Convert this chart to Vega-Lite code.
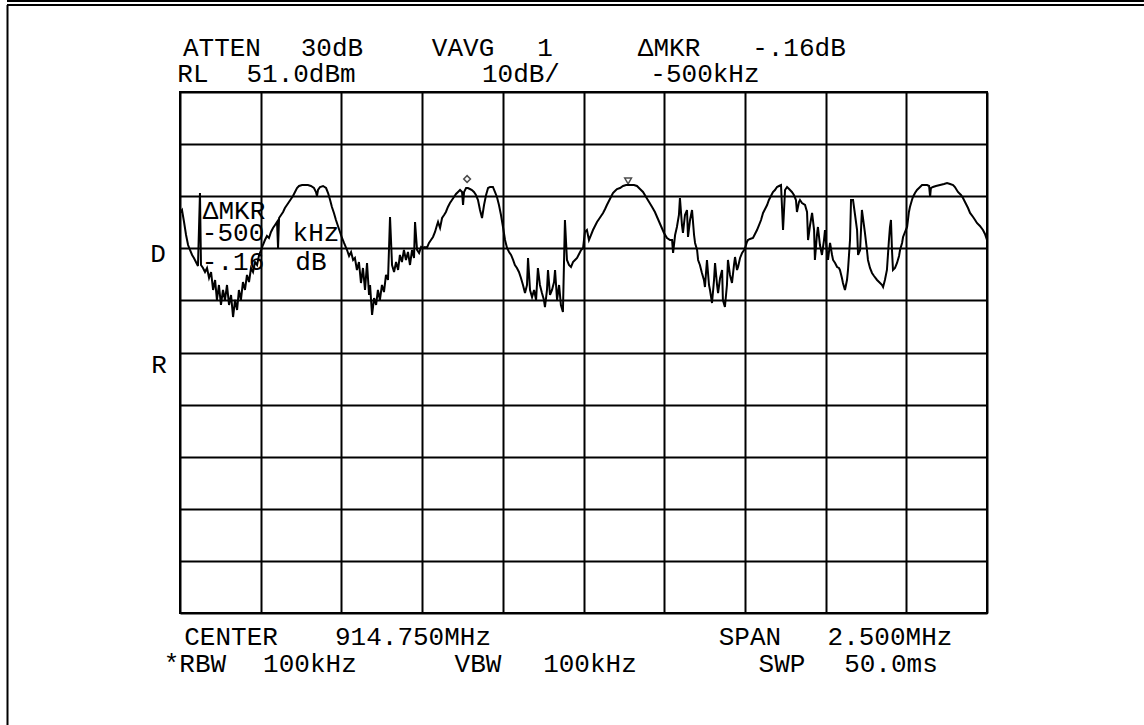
{
  "$schema": "https://vega.github.io/schema/vega-lite/v6.json",
  "width": 807,
  "height": 521,
  "autosize": {"type": "none"},
  "padding": {"left": 180, "top": 92, "right": 157, "bottom": 112},
  "background": "white",
  "config": {
    "view": {"stroke": "black", "strokeWidth": 2},
    "axis": {"grid": true, "labels": false, "ticks": false, "domain": false, "title": null, "gridColor": "black", "gridWidth": 2, "gridOpacity": 1}
  },
  "datasets": {
    "trace": [
      {"pt":0,"dBm":27.78},{"pt":1.0,"dBm":28.35},{"pt":2.0,"dBm":26.05},{"pt":3.0,"dBm":23.55},{"pt":4.0,"dBm":21.63},{"pt":5.0,"dBm":20.67},{"pt":6.0,"dBm":19.72},{"pt":6.9,"dBm":19.14},{"pt":7.9,"dBm":18.37},{"pt":8.9,"dBm":17.6},{"pt":9.9,"dBm":31.61},{"pt":10.4,"dBm":17.8},{"pt":11.4,"dBm":17.22},{"pt":12.4,"dBm":16.45},{"pt":13.4,"dBm":17.22},{"pt":14.4,"dBm":15.3},{"pt":15.4,"dBm":16.45},{"pt":16.4,"dBm":13.0},{"pt":17.4,"dBm":14.92},{"pt":18.3,"dBm":11.08},{"pt":19.3,"dBm":13.96},{"pt":20.3,"dBm":10.12},{"pt":21.3,"dBm":13.0},{"pt":22.3,"dBm":11.08},{"pt":23.3,"dBm":13.96},{"pt":24.3,"dBm":10.12},{"pt":25.3,"dBm":12.04},{"pt":26.3,"dBm":7.81},{"pt":27.3,"dBm":11.08},{"pt":28.3,"dBm":9.16},{"pt":29.2,"dBm":13.0},{"pt":30.2,"dBm":11.08},{"pt":31.2,"dBm":14.53},{"pt":32.2,"dBm":13.0},{"pt":33.2,"dBm":15.88},{"pt":34.2,"dBm":14.53},{"pt":35.2,"dBm":17.22},{"pt":36.2,"dBm":16.45},{"pt":37.2,"dBm":18.37},{"pt":38.2,"dBm":17.8},{"pt":39.2,"dBm":19.72},{"pt":40.2,"dBm":20.67},{"pt":41.1,"dBm":21.63},
      {"pt":42.1,"dBm":22.59},{"pt":43.1,"dBm":23.36},{"pt":44.1,"dBm":22.98},{"pt":45.1,"dBm":24.13},{"pt":46.1,"dBm":24.9},{"pt":47.1,"dBm":25.47},{"pt":48.1,"dBm":26.05},{"pt":48.6,"dBm":21.06},{"pt":49.1,"dBm":26.82},{"pt":50.1,"dBm":27.39},{"pt":51.1,"dBm":27.97},{"pt":52.0,"dBm":28.73},{"pt":53.0,"dBm":29.31},{"pt":54.0,"dBm":29.89},{"pt":55.0,"dBm":30.46},{"pt":56.0,"dBm":31.04},{"pt":57.0,"dBm":31.81},{"pt":58.0,"dBm":32.57},{"pt":59.0,"dBm":32.96},{"pt":60.5,"dBm":33.15},{"pt":62.0,"dBm":33.15},{"pt":63.4,"dBm":33.15},{"pt":64.9,"dBm":32.96},{"pt":66.4,"dBm":32.57},{"pt":67.4,"dBm":31.81},{"pt":67.9,"dBm":31.04},{"pt":68.4,"dBm":32.19},{"pt":69.4,"dBm":32.77},{"pt":70.9,"dBm":32.96},{"pt":72.4,"dBm":32.57},{"pt":73.4,"dBm":31.61},{"pt":74.4,"dBm":30.27},{"pt":75.3,"dBm":28.93},{"pt":76.3,"dBm":27.78},{"pt":77.3,"dBm":26.43},{"pt":78.3,"dBm":25.28},{"pt":79.3,"dBm":24.13},{"pt":80.3,"dBm":22.98},{"pt":81.3,"dBm":22.02},
      {"pt":82.8,"dBm":20.67},{"pt":83.8,"dBm":19.52},{"pt":84.8,"dBm":20.29},{"pt":85.8,"dBm":18.76},{"pt":86.7,"dBm":19.14},{"pt":87.7,"dBm":16.84},{"pt":88.7,"dBm":18.37},{"pt":89.7,"dBm":14.34},{"pt":90.7,"dBm":17.22},{"pt":91.7,"dBm":13.0},{"pt":92.7,"dBm":18.18},{"pt":93.7,"dBm":12.04},{"pt":94.2,"dBm":13.96},{"pt":95.2,"dBm":8.2},{"pt":96.2,"dBm":11.46},{"pt":97.2,"dBm":10.12},{"pt":98.1,"dBm":13.0},{"pt":99.1,"dBm":11.08},{"pt":100.1,"dBm":13.96},{"pt":101.1,"dBm":12.61},{"pt":102.1,"dBm":15.88},{"pt":103.1,"dBm":14.92},{"pt":104.1,"dBm":27.01},{"pt":105.1,"dBm":17.8},{"pt":106.1,"dBm":16.45},{"pt":107.1,"dBm":18.37},{"pt":108.1,"dBm":16.84},{"pt":109.0,"dBm":19.72},{"pt":110.0,"dBm":18.37},{"pt":111.0,"dBm":20.67},{"pt":112.0,"dBm":18.76},{"pt":113.0,"dBm":20.29},{"pt":114.0,"dBm":17.8},{"pt":115.0,"dBm":20.67},{"pt":116.0,"dBm":19.14},{"pt":116.5,"dBm":26.05},{"pt":117.5,"dBm":20.67},{"pt":118.5,"dBm":20.1},{"pt":119.5,"dBm":21.25},{"pt":120.4,"dBm":21.06},
      {"pt":121.4,"dBm":21.25},{"pt":122.4,"dBm":21.06},{"pt":123.4,"dBm":22.02},{"pt":124.4,"dBm":22.59},{"pt":125.4,"dBm":23.17},{"pt":126.4,"dBm":24.13},{"pt":127.4,"dBm":25.47},{"pt":127.9,"dBm":26.05},{"pt":128.9,"dBm":24.9},{"pt":129.9,"dBm":26.82},{"pt":130.9,"dBm":27.39},{"pt":131.8,"dBm":27.97},{"pt":132.8,"dBm":28.93},{"pt":133.8,"dBm":29.69},{"pt":134.8,"dBm":30.27},{"pt":135.8,"dBm":30.85},{"pt":136.8,"dBm":31.42},{"pt":137.8,"dBm":31.81},{"pt":138.8,"dBm":32.19},{"pt":139.8,"dBm":31.81},{"pt":140.3,"dBm":29.31},{"pt":140.8,"dBm":31.81},{"pt":141.8,"dBm":32.57},{"pt":142.7,"dBm":32.57},{"pt":143.7,"dBm":32.38},{"pt":144.7,"dBm":32.19},{"pt":145.7,"dBm":31.81},{"pt":146.7,"dBm":31.23},{"pt":147.7,"dBm":30.27},{"pt":148.7,"dBm":28.35},{"pt":149.7,"dBm":26.82},{"pt":150.7,"dBm":29.31},{"pt":151.7,"dBm":31.23},{"pt":152.7,"dBm":32.57},{"pt":153.7,"dBm":32.77},{"pt":155.1,"dBm":32.77},{"pt":156.1,"dBm":31.81},{"pt":157.1,"dBm":30.85},{"pt":158.1,"dBm":29.31},{"pt":159.1,"dBm":27.39},{"pt":160.1,"dBm":25.09},
      {"pt":161.1,"dBm":22.59},{"pt":162.1,"dBm":21.06},{"pt":163.1,"dBm":20.29},{"pt":164.1,"dBm":19.72},{"pt":165.1,"dBm":18.76},{"pt":166.0,"dBm":17.8},{"pt":167.0,"dBm":17.22},{"pt":168.0,"dBm":16.45},{"pt":169.0,"dBm":15.3},{"pt":170.0,"dBm":13.96},{"pt":171.0,"dBm":12.42},{"pt":172.0,"dBm":13.96},{"pt":172.5,"dBm":19.14},{"pt":173.5,"dBm":13.0},{"pt":174.5,"dBm":11.65},{"pt":175.5,"dBm":13.0},{"pt":176.5,"dBm":11.08},{"pt":177.4,"dBm":17.22},{"pt":178.4,"dBm":13.96},{"pt":179.4,"dBm":12.42},{"pt":180.4,"dBm":11.08},{"pt":180.9,"dBm":9.73},{"pt":181.9,"dBm":13.0},{"pt":182.4,"dBm":16.84},{"pt":183.4,"dBm":12.04},{"pt":184.4,"dBm":13.0},{"pt":185.4,"dBm":14.53},{"pt":185.9,"dBm":16.84},{"pt":186.9,"dBm":11.08},{"pt":187.9,"dBm":13.96},{"pt":188.8,"dBm":10.12},{"pt":189.8,"dBm":8.77},{"pt":190.8,"dBm":26.43},{"pt":191.8,"dBm":18.76},{"pt":192.8,"dBm":17.8},{"pt":193.8,"dBm":17.41},{"pt":194.8,"dBm":18.37},{"pt":195.8,"dBm":18.76},{"pt":196.8,"dBm":19.14},{"pt":197.8,"dBm":19.91},{"pt":198.8,"dBm":20.67},{"pt":199.8,"dBm":21.06},
      {"pt":200.7,"dBm":24.13},{"pt":201.7,"dBm":24.51},{"pt":202.7,"dBm":22.59},{"pt":203.7,"dBm":23.55},{"pt":204.7,"dBm":24.51},{"pt":205.7,"dBm":25.28},{"pt":206.7,"dBm":26.05},{"pt":207.7,"dBm":26.62},{"pt":208.7,"dBm":27.2},{"pt":209.7,"dBm":27.78},{"pt":210.7,"dBm":28.54},{"pt":211.6,"dBm":29.31},{"pt":212.6,"dBm":30.08},{"pt":213.6,"dBm":30.85},{"pt":214.6,"dBm":31.61},{"pt":215.6,"dBm":32.0},{"pt":216.6,"dBm":32.38},{"pt":218.1,"dBm":32.57},{"pt":219.6,"dBm":32.96},{"pt":221.1,"dBm":33.15},{"pt":223.0,"dBm":33.15},{"pt":225.0,"dBm":33.15},{"pt":226.5,"dBm":32.96},{"pt":228.0,"dBm":32.38},{"pt":229.5,"dBm":31.81},{"pt":231.0,"dBm":30.85},{"pt":232.5,"dBm":29.89},{"pt":234.0,"dBm":28.93},{"pt":235.4,"dBm":27.97},{"pt":236.9,"dBm":26.62},{"pt":238.4,"dBm":25.28},{"pt":239.9,"dBm":23.94},{"pt":241.4,"dBm":22.98},{"pt":242.9,"dBm":22.59},{"pt":243.9,"dBm":22.59},{"pt":244.4,"dBm":20.1},{"pt":245.4,"dBm":23.55},{"pt":246.3,"dBm":25.09},{"pt":247.3,"dBm":27.39},{"pt":247.8,"dBm":30.65},{"pt":248.8,"dBm":25.47},{"pt":249.3,"dBm":23.94},
      {"pt":250.3,"dBm":27.39},{"pt":251.3,"dBm":28.35},{"pt":251.8,"dBm":23.17},{"pt":252.8,"dBm":26.43},{"pt":253.8,"dBm":28.35},{"pt":254.8,"dBm":23.55},{"pt":255.3,"dBm":22.02},{"pt":256.3,"dBm":20.67},{"pt":256.8,"dBm":18.76},{"pt":257.7,"dBm":17.8},{"pt":258.7,"dBm":16.26},{"pt":259.7,"dBm":14.92},{"pt":260.2,"dBm":13.57},{"pt":261.2,"dBm":18.76},{"pt":262.2,"dBm":13.96},{"pt":262.7,"dBm":13.0},{"pt":263.7,"dBm":10.5},{"pt":264.7,"dBm":14.92},{"pt":265.2,"dBm":18.18},{"pt":266.2,"dBm":13.96},{"pt":266.7,"dBm":12.42},{"pt":267.7,"dBm":15.3},{"pt":268.7,"dBm":16.84},{"pt":269.1,"dBm":11.08},{"pt":270.1,"dBm":9.73},{"pt":271.1,"dBm":13.96},{"pt":271.6,"dBm":18.76},{"pt":272.6,"dBm":15.88},{"pt":273.6,"dBm":14.34},{"pt":274.6,"dBm":17.8},{"pt":275.1,"dBm":19.33},{"pt":276.1,"dBm":16.84},{"pt":276.6,"dBm":17.41},{"pt":277.6,"dBm":19.14},{"pt":278.6,"dBm":20.1},{"pt":279.6,"dBm":20.67},{"pt":280.1,"dBm":21.06},{"pt":281.0,"dBm":22.21},{"pt":281.5,"dBm":22.59},
      {"pt":282.5,"dBm":22.79},{"pt":284.0,"dBm":22.98},{"pt":285.0,"dBm":23.75},{"pt":286.0,"dBm":24.51},{"pt":287.0,"dBm":25.47},{"pt":288.0,"dBm":26.43},{"pt":289.0,"dBm":27.78},{"pt":290.0,"dBm":28.54},{"pt":291.0,"dBm":29.31},{"pt":291.9,"dBm":30.27},{"pt":292.9,"dBm":31.04},{"pt":293.9,"dBm":31.81},{"pt":294.9,"dBm":32.19},{"pt":295.9,"dBm":32.77},{"pt":296.9,"dBm":32.96},{"pt":297.9,"dBm":33.15},{"pt":298.9,"dBm":24.51},{"pt":299.9,"dBm":32.19},{"pt":300.9,"dBm":32.77},{"pt":301.9,"dBm":32.38},{"pt":303.3,"dBm":31.81},{"pt":304.3,"dBm":31.23},{"pt":305.3,"dBm":30.27},{"pt":305.8,"dBm":27.97},{"pt":306.8,"dBm":29.89},{"pt":307.3,"dBm":30.27},{"pt":308.3,"dBm":29.69},{"pt":309.8,"dBm":29.31},{"pt":310.8,"dBm":27.97},{"pt":311.3,"dBm":22.59},{"pt":312.3,"dBm":25.47},{"pt":313.3,"dBm":27.78},{"pt":314.3,"dBm":24.51},{"pt":314.7,"dBm":18.76},{"pt":315.7,"dBm":23.55},{"pt":316.2,"dBm":25.09},{"pt":317.2,"dBm":21.63},{"pt":318.2,"dBm":19.72},{"pt":319.2,"dBm":22.59},{"pt":319.7,"dBm":24.51},{"pt":320.7,"dBm":20.1},{"pt":321.2,"dBm":18.76},{"pt":322.2,"dBm":22.02},{"pt":323.2,"dBm":19.72},{"pt":323.7,"dBm":18.76},
      {"pt":324.7,"dBm":18.18},{"pt":325.7,"dBm":17.41},{"pt":326.6,"dBm":17.22},{"pt":327.1,"dBm":16.84},{"pt":328.1,"dBm":15.3},{"pt":328.6,"dBm":14.34},{"pt":329.6,"dBm":13.0},{"pt":330.6,"dBm":14.92},{"pt":331.1,"dBm":16.84},{"pt":332.1,"dBm":22.59},{"pt":332.6,"dBm":30.27},{"pt":333.6,"dBm":30.27},{"pt":334.6,"dBm":27.39},{"pt":335.6,"dBm":24.51},{"pt":336.1,"dBm":19.72},{"pt":337.1,"dBm":20.67},{"pt":338.0,"dBm":28.35},{"pt":339.0,"dBm":25.47},{"pt":339.5,"dBm":23.94},{"pt":340.5,"dBm":20.67},{"pt":341.0,"dBm":18.76},{"pt":342.0,"dBm":17.22},{"pt":343.0,"dBm":16.26},{"pt":344.0,"dBm":15.68},{"pt":345.5,"dBm":14.92},{"pt":346.5,"dBm":14.53},{"pt":347.0,"dBm":14.34},{"pt":348.0,"dBm":13.96},{"pt":348.5,"dBm":13.57},{"pt":349.4,"dBm":14.92},{"pt":350.4,"dBm":16.84},{"pt":351.4,"dBm":22.59},{"pt":351.9,"dBm":25.09},{"pt":352.4,"dBm":26.43},{"pt":352.9,"dBm":20.67},{"pt":353.4,"dBm":16.84},{"pt":354.4,"dBm":17.22},{"pt":355.4,"dBm":18.18},{"pt":356.4,"dBm":19.52},{"pt":356.9,"dBm":20.67},{"pt":357.9,"dBm":22.02},{"pt":358.4,"dBm":23.17},{"pt":359.4,"dBm":24.13},{"pt":360.4,"dBm":25.09},
      {"pt":361.3,"dBm":27.97},{"pt":361.8,"dBm":28.93},{"pt":362.8,"dBm":30.27},{"pt":363.3,"dBm":30.85},{"pt":364.3,"dBm":31.61},{"pt":365.3,"dBm":32.19},{"pt":366.3,"dBm":32.57},{"pt":367.8,"dBm":33.15},{"pt":369.3,"dBm":33.15},{"pt":370.3,"dBm":33.15},{"pt":371.3,"dBm":32.96},{"pt":371.8,"dBm":30.85},{"pt":372.2,"dBm":32.57},{"pt":373.2,"dBm":32.77},{"pt":374.7,"dBm":32.96},{"pt":376.7,"dBm":33.15},{"pt":378.7,"dBm":33.34},{"pt":380.2,"dBm":33.53},{"pt":381.7,"dBm":33.34},{"pt":383.2,"dBm":33.15},{"pt":384.1,"dBm":32.77},{"pt":385.6,"dBm":31.81},{"pt":387.1,"dBm":31.23},{"pt":388.1,"dBm":30.65},{"pt":389.6,"dBm":29.5},{"pt":390.6,"dBm":28.73},{"pt":391.6,"dBm":27.78},{"pt":393.1,"dBm":27.01},{"pt":394.1,"dBm":26.43},{"pt":395.0,"dBm":25.86},{"pt":396.5,"dBm":25.28},{"pt":398.0,"dBm":24.51},{"pt":399.0,"dBm":23.75},{"pt":400.0,"dBm":22.59}
    ],
    "labels": [
      {"text":"ATTEN","pt":20.8,"dBm":59.54},{"text":"30dB","pt":75.3,"dBm":59.54},{"text":"VAVG","pt":140.3,"dBm":59.54},{"text":"1","pt":180.9,"dBm":59.54},{"text":"ΔMKR","pt":242.4,"dBm":59.54},{"text":"-.16dB","pt":306.8,"dBm":59.54},
      {"text":"RL","pt":6.4,"dBm":54.45},{"text":"51.0dBm","pt":60.0,"dBm":54.45},{"text":"10dB/","pt":169.0,"dBm":54.45},{"text":"-500kHz","pt":260.2,"dBm":54.45},
      {"text":"CENTER","pt":25.3,"dBm":-53.7},{"text":"914.750MHz","pt":115.5,"dBm":-53.7},{"text":"SPAN","pt":282.5,"dBm":-53.7},{"text":"2.500MHz","pt":351.9,"dBm":-53.7},
      {"text":"*RBW","pt":7.4,"dBm":-58.7},{"text":"100kHz","pt":64.4,"dBm":-58.7},{"text":"VBW","pt":147.7,"dBm":-58.7},{"text":"100kHz","pt":203.2,"dBm":-58.7},{"text":"SWP","pt":298.4,"dBm":-58.7},{"text":"50.0ms","pt":352.4,"dBm":-58.7},
      {"text":"ΔMKR","pt":26.8,"dBm":28.16},{"text":"-500","pt":26.3,"dBm":23.94},{"text":"kHz","pt":67.4,"dBm":23.94},{"text":"-.16","pt":26.3,"dBm":18.37},{"text":"dB","pt":64.9,"dBm":18.37},
      {"text":"D","pt":-10.9,"dBm":19.9},{"text":"R","pt":-10.4,"dBm":-1.4}
    ]
  },
  "layer": [
    {
      "data": {"name": "trace"},
      "mark": {"type": "line", "color": "black", "strokeWidth": 2},
      "encoding": {
        "x": {"field": "pt", "type": "quantitative", "scale": {"domain": [0, 400], "nice": false, "zero": false},
              "axis": {"values": [0,40,80,120,160,200,240,280,320,360,400]}},
        "y": {"field": "dBm", "type": "quantitative", "scale": {"domain": [-49, 51], "nice": false, "zero": false},
              "axis": {"values": [-49,-39,-29,-19,-9,1,11,21,31,41,51]}}
      }
    },
    {
      "data": {"values": [{}]},
      "mark": {"type": "point", "shape": "diamond", "filled": false, "color": "black", "strokeWidth": 1.5, "size": 45},
      "encoding": {
        "x": {"datum": 142.3, "type": "quantitative"},
        "y": {"datum": 34.3, "type": "quantitative"}
      }
    },
    {
      "data": {"values": [{}]},
      "mark": {"type": "point", "shape": "triangle-down", "filled": false, "color": "black", "strokeWidth": 1.5, "size": 45},
      "encoding": {
        "x": {"datum": 222.1, "type": "quantitative"},
        "y": {"datum": 33.92, "type": "quantitative"}
      }
    },
    {
      "data": {"name": "labels"},
      "mark": {"type": "text", "font": "Liberation Mono", "fontSize": 26, "color": "black", "align": "center", "baseline": "middle"},
      "encoding": {
        "x": {"field": "pt", "type": "quantitative"},
        "y": {"field": "dBm", "type": "quantitative"},
        "text": {"field": "text", "type": "nominal"}
      }
    },
    {
      "data": {"values": [{}]},
      "mark": {"type": "rule", "color": "black", "strokeWidth": 2},
      "encoding": {
        "x": {"datum": -85.75, "type": "quantitative"},
        "x2": {"datum": 477.8},
        "y": {"datum": 68.47, "type": "quantitative"}
      }
    },
    {
      "data": {"values": [{}]},
      "mark": {"type": "rule", "color": "black", "strokeWidth": 2},
      "encoding": {
        "x": {"datum": -85.75, "type": "quantitative"},
        "x2": {"datum": 477.8},
        "y": {"datum": 67.7, "type": "quantitative"}
      }
    },
    {
      "data": {"values": [{}]},
      "mark": {"type": "rule", "color": "black", "strokeWidth": 2},
      "encoding": {
        "x": {"datum": -85.5, "type": "quantitative"},
        "y": {"datum": 67.7, "type": "quantitative"},
        "y2": {"datum": -70.5}
      }
    }
  ]
}
